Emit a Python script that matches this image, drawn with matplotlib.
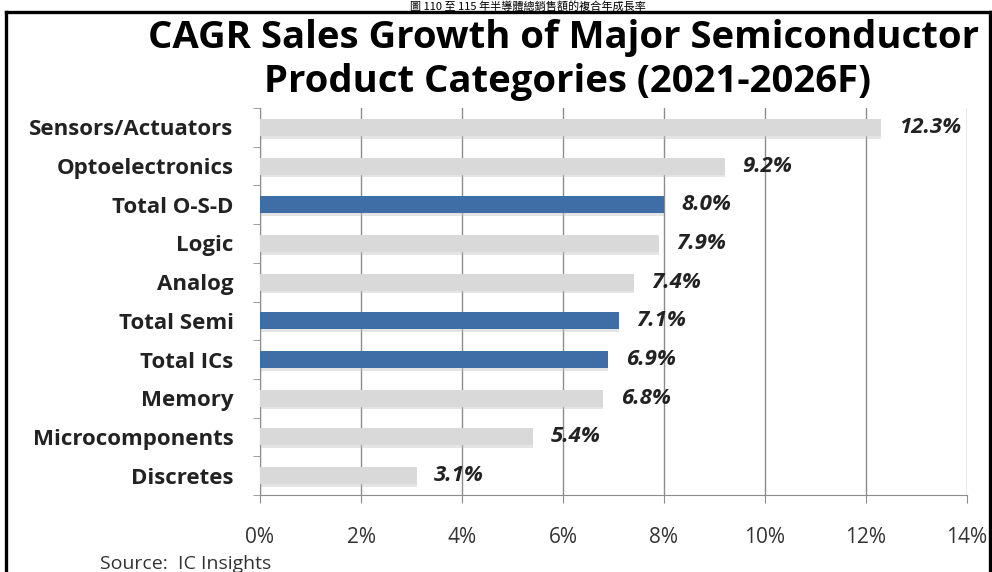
import numpy as np
import matplotlib
matplotlib.use("Agg")
import matplotlib.pyplot as plt
from matplotlib.lines import Line2D

plt.rcParams["font.family"] = ["Open Sans", "DejaVu Sans"]

categorias = ["Sensors/Actuators", "Optoelectronics", "Total O-S-D", "Logic",
              "Analog", "Total Semi", "Total ICs", "Memory",
              "Microcomponents", "Discretes"]
valores = [12.3, 9.2, 8.0, 7.9, 7.4, 7.1, 6.9, 6.8, 5.4, 3.1]
es_total = [False, False, True, False, False, True, True, False, False, False]
x_ticks = [0, 2, 4, 6, 8, 10, 12, 14]

GRIS = "#d9d9d9"
AZUL = "#3f6ea6"
LINEA = "#8c8c8c"

W, H = 992, 572
fig = plt.figure(figsize=(W / 100, H / 100), dpi=100)

# marco negro (izquierda, arriba, derecha)
for xs, ys in [([6, 6], [12, H + 5]), ([6, 990], [12, 12]), ([990, 990], [12, H + 5])]:
    fig.add_artist(Line2D([x / W for x in xs], [1 - v / H for v in ys],
                          color="black", lw=2.4, transform=fig.transFigure))

# titulo chino (en la franja superior)
fig.text(528 / W, 1 - 1 / H, "圖 110 至 115 年半導體總銷售額的複合年成長率",
         ha="center", va="top", fontsize=8,
         family=["Noto Sans CJK TC", "DejaVu Sans"])

fig.text(563 / W, 1 - 38 / H, "CAGR Sales Growth of Major Semiconductor",
         ha="center", va="center", fontsize=27.5, fontweight="bold")
fig.text(567 / W, 1 - 82 / H, "Product Categories (2021-2026F)",
         ha="center", va="center", fontsize=27.5, fontweight="bold")

ax = fig.add_axes([260 / W, (H - 495) / H, (967 - 260) / W, (495 - 108) / H])

y = np.arange(len(categorias))
colores = [AZUL if t else GRIS for t in es_total]
# sombra ligera
ax.barh(y + 0.07, valores, height=0.44, color="#c4c4c4", alpha=0.45, zorder=2)
ax.barh(y, valores, height=0.44, color=colores, zorder=3)

for yi, v in zip(y, valores):
    ax.text(v + 0.35, yi, f"{v:.1f}%", ha="left", va="center", fontsize=16,
            fontweight="bold", fontstyle="italic", color="#222222", zorder=4)

ax.set_xlim(0, 14)
ax.set_ylim(len(categorias) - 0.5, -0.5)
ax.set_xticks(x_ticks)
ax.set_xticklabels([f"{t}%" for t in x_ticks], fontsize=15, color="#333333")
ax.set_yticks(y)
ax.set_yticklabels(categorias, fontsize=16, fontweight="bold", color="#222222")
ax.set_yticks(np.arange(-0.5, len(categorias)), minor=True)
ax.tick_params(axis="y", which="major", length=0, pad=19)
ax.tick_params(axis="y", which="minor", length=5, color=LINEA, direction="out")
ax.tick_params(axis="x", length=6, color=LINEA, direction="out", pad=17)
ax.grid(axis="x", color=LINEA, lw=1, zorder=1)
for s in ["top", "right"]:
    ax.spines[s].set_visible(False)
for s in ["left", "bottom"]:
    ax.spines[s].set_color(LINEA)

fig.text(100 / W, 1 - 564 / H, "Source:  IC Insights", ha="left", va="center",
         fontsize=14, color="#333333")

fig.savefig("out.png", dpi=100)
